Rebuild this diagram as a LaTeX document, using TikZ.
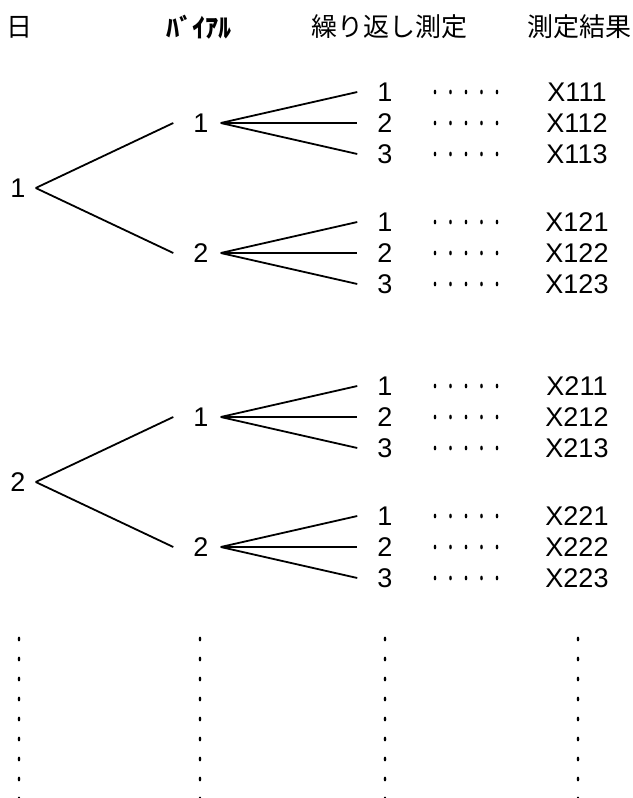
\documentclass[tikz,border=0pt]{standalone}
\usepackage{fontspec}
\setmainfont{Liberation Sans}
\newfontfamily\jpfont{Noto Sans CJK JP}
\begin{document}
\begin{tikzpicture}[x=1pt,y=-1pt,
  lbl/.style={inner sep=0pt, font=\fontsize{27}{31}\selectfont},
  hdr/.style={inner sep=0pt, font=\fontsize{26}{30}\selectfont\jpfont},
  br/.style={line width=1.8pt},
  dotmark/.style={fill=black}]
\useasboundingbox (0,0) rectangle (632,798);
% headers
\node[hdr] (h1) at (19,27) {日};
\node[hdr, font=\fontsize{26}{30}\selectfont\jpfont\bfseries] (h2) at (199,27) {ﾊﾞｲｱﾙ};
\node[hdr] (h3) at (389,27) {繰り返し測定};
\node[hdr] (h4) at (579,27) {測定結果};
% tree blocks
\foreach \d/\off in {1/0, 2/294} {
  \node[lbl] (d\d) at (18, 188+\off) {\d};
  \foreach \v/\vy in {1/123, 2/253} {
    \pgfmathsetmacro\vyy{\vy+\off}
    \node[lbl] (v\d\v) at (201, \vyy) {\v};
    \draw[br] ([xshift=10pt]d\d.east) -- ([xshift=-20pt]v\d\v.west);
    \foreach \r in {1,2,3} {
      \pgfmathsetmacro\ry{\vy+\off+(\r-2)*31}
      \node[lbl] (r\d\v\r) at (385,\ry) {\r};
      \draw[br] ([xshift=12pt]v\d\v.east) -- ([xshift=-20pt]r\d\v\r.west);
      \foreach \k in {0,...,4}
        \fill[dotmark] ({435+15.5*\k},\ry) ellipse [x radius=1.3pt, y radius=2.4pt];
      \node[lbl] (x\d\v\r) at (577,\ry) {X\d\v\r};
    }
  }
}
% vertical continuation dots
\foreach \cx in {19,200,385,578}
  \foreach \k in {0,...,8}
    \fill[dotmark] (\cx,{639+20*\k}) ellipse [x radius=1.3pt, y radius=2.4pt];
\end{tikzpicture}
\end{document}
